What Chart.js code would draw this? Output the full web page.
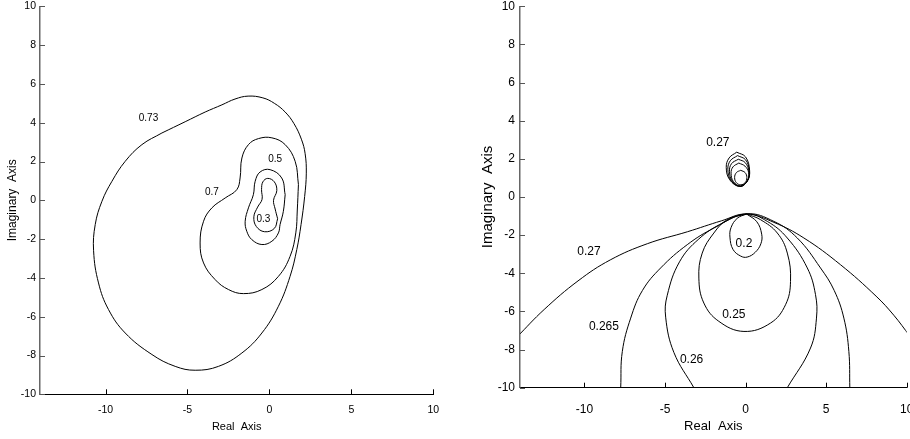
<!DOCTYPE html>
<html>
<head>
<meta charset="utf-8">
<script src="https://cdn.jsdelivr.net/npm/chart.js@4.4.1/dist/chart.umd.min.js"></script>
<style>
  html, body { margin: 0; padding: 0; background: #fff; overflow: hidden; width: 910px; height: 439px; }
  canvas { position: absolute; top: 0; }
  #left { left: 0; }
  #right { left: 460px; }
</style>
</head>
<body>
<canvas id="left" width="450" height="439"></canvas>
<canvas id="right" width="470" height="439"></canvas>
<script>
// axis ticks
const xTickVals = [-10, -5, 0, 5, 10];
const yTickVals = [-10, -8, -6, -4, -2, 0, 2, 4, 6, 8, 10];

// left panel contours [x, y]
const left073 = [[-6.56, 3.47], [-7.78, 2.87], [-8.8, 2.01], [-9.61, 0.98], [-10.22, -0.05], [-10.63, -1.25], [-10.73, -2.6], [-10.43, -4.26], [-9.82, -5.63], [-8.8, -6.84], [-7.17, -7.95], [-5.75, -8.56], [-4.53, -8.76], [-3.11, -8.56], [-1.68, -7.87], [-0.46, -6.84], [0.55, -5.46], [1.26, -3.92], [1.67, -2.54], [1.93, -1.25], [2.15, 0.2], [2.25, 1.4], [2.18, 2.4], [1.95, 3.15], [1.5, 3.95], [0.96, 4.55], [0.3, 5.0], [-0.4, 5.28], [-1.3, 5.37], [-2.1, 5.22], [-2.9, 4.92], [-3.92, 4.55], [-5.14, 4.05], [-6.56, 3.47]];
const left070 = [[1.77, 0.81], [1.57, 2.01], [0.96, 2.87], [0.15, 3.22], [-0.67, 3.18], [-1.28, 2.87], [-1.68, 2.18], [-1.79, 1.15], [-1.99, 0.55], [-2.7, 0.12], [-3.51, -0.39], [-4.02, -1.08], [-4.23, -2.2], [-4.02, -3.23], [-3.31, -4.09], [-2.5, -4.6], [-1.59, -4.81], [-0.46, -4.6], [0.55, -3.92], [1.26, -2.89], [1.61, -1.68], [1.7, -0.5], [1.77, 0.81]];
const left050 = [[0.96, 0.29], [0.85, -0.57], [0.65, -1.25], [0.55, -1.68], [0.15, -2.11], [-0.46, -2.28], [-1.07, -2.03], [-1.38, -1.6], [-1.48, -1.08], [-1.28, -0.39], [-0.98, 0.29], [-0.87, 0.98], [-0.57, 1.46], [0.04, 1.58], [0.75, 1.15], [0.96, 0.29]];
const left030 = [[0.5, -0.95], [0.3, -1.45], [-0.3, -1.62], [-0.8, -1.35], [-0.95, -0.85], [-0.72, -0.35], [-0.45, 0.05], [-0.48, 0.55], [-0.4, 0.95], [-0.1, 1.13], [0.3, 0.95], [0.45, 0.5], [0.25, 0.0], [0.35, -0.45], [0.5, -0.95]];

const leftLabelText = ['0.73', '0.7', '0.5', '0.3'];
const leftLabelX = [-7.38, -3.51, 0.35, -0.37];
const leftLabelY = [4.25, 0.43, 2.1, -0.99];

// right panel contours [x, y]
const rightOvalA = [[-0.55, 2.35], [-1.02, 2.05], [-1.2, 1.55], [-0.98, 0.9], [-0.35, 0.55], [0.12, 0.85], [0.25, 1.4], [0.0, 2.1], [-0.55, 2.35]];
const rightOvalB = [[-0.5, 2.17], [-0.95, 1.9], [-1.1, 1.45], [-0.9, 0.85], [-0.33, 0.56], [0.12, 0.85], [0.23, 1.38], [0.0, 1.95], [-0.5, 2.17]];
const rightOvalC = [[-0.45, 1.98], [-0.87, 1.75], [-1.0, 1.35], [-0.82, 0.82], [-0.32, 0.57], [0.11, 0.85], [0.21, 1.33], [-0.02, 1.8], [-0.45, 1.98]];
const rightOvalD = [[-0.42, 1.78], [-0.78, 1.58], [-0.9, 1.25], [-0.75, 0.8], [-0.31, 0.58], [0.1, 0.84], [0.19, 1.28], [-0.04, 1.62], [-0.42, 1.78]];
const rightOvalE = [[-0.3, 1.4], [-0.57, 1.28], [-0.68, 1.02], [-0.57, 0.75], [-0.3, 0.64], [-0.03, 0.75], [0.08, 1.02], [-0.03, 1.28], [-0.3, 1.4]];
const right020 = [[0.06, -0.89], [-0.52, -1.12], [-0.9, -1.6], [-0.97, -2.1], [-0.78, -2.75], [-0.3, -3.1], [0.1, -3.15], [0.6, -2.9], [0.95, -2.45], [1.0, -1.95], [0.7, -1.3], [0.06, -0.89]];
const right025 = [[0.06, -0.89], [-1.14, -1.19], [-1.97, -1.89], [-2.69, -2.94], [-2.9, -4.25], [-2.59, -5.56], [-1.66, -6.52], [-0.1, -7.05], [1.55, -6.61], [2.48, -5.65], [2.79, -4.43], [2.59, -2.94], [1.97, -1.89], [0.93, -1.19], [0.06, -0.89]];
const right026 = [[-3.21, -10], [-4.45, -8.15], [-4.96, -6.3], [-4.86, -5.15], [-4.1, -3.4], [-2.9, -2.2], [-1.4, -1.35], [0.06, -0.89], [1.35, -1.28], [2.59, -2.15], [3.83, -3.72], [4.34, -5.12], [4.4, -6.35], [4.03, -7.92], [2.59, -10]];
const right0265 = [[-7.75, -10], [-7.65, -8.1], [-7.13, -6.35], [-6.4, -4.9], [-5.27, -3.72], [-3.62, -2.5], [-1.97, -1.63], [0.06, -0.89], [1.76, -1.28], [3.21, -2.15], [4.65, -3.72], [5.5, -4.9], [6.1, -6.35], [6.41, -8.1], [6.47, -10]];
const right027 = [[-14.2, -7.35], [-12.5, -5.9], [-10.4, -4.4], [-8.4, -3.3], [-6.1, -2.45], [-3.6, -1.82], [-1.5, -1.25], [0.06, -0.89], [1.76, -1.33], [3.62, -2.15], [5.89, -3.55], [8.1, -5.2], [9.2, -6.2], [10.2, -7.3]];

const rightLabelText = ['0.27', '0.2', '0.27', '0.265', '0.25', '0.26'];
const rightLabelX = [-1.72, -0.1, -9.72, -8.79, -0.73, -3.35];
const rightLabelY = [2.83, -2.46, -2.88, -6.82, -6.17, -8.53];

// draws contour labels and inward tick marks
const contourExtras = {
  id: 'contourExtras',
  afterDatasetsDraw(chart, args, opts) {
    const ctx = chart.ctx;
    const xs = chart.scales.x, ys = chart.scales.y;
    const area = chart.chartArea;
    ctx.save();
    ctx.fillStyle = '#000';
    ctx.font = opts.size + 'px "Liberation Sans", Arial, sans-serif';
    ctx.textAlign = 'center';
    ctx.textBaseline = 'middle';
    opts.text.forEach((t, i) => {
      ctx.fillText(t, xs.getPixelForValue(opts.x[i]), ys.getPixelForValue(opts.y[i]));
    });
    ctx.lineWidth = 1;
    ctx.strokeStyle = '#000';
    xTickVals.forEach(v => {
      const px = Math.round(xs.getPixelForValue(v)) + 0.5;
      ctx.beginPath();
      ctx.moveTo(px, area.bottom);
      ctx.lineTo(px, area.bottom - 5);
      ctx.stroke();
    });
    ctx.strokeStyle = '#555';
    yTickVals.forEach(v => {
      const py = Math.round(ys.getPixelForValue(v)) + 0.5;
      ctx.beginPath();
      ctx.moveTo(area.left, py);
      ctx.lineTo(area.left + 5, py);
      ctx.stroke();
    });
    ctx.restore();
  }
};

function toDatasets(curves) {
  return curves.map(c => ({
    data: c.map(p => ({ x: p[0], y: p[1] })),
    showLine: true,
    borderColor: '#000',
    borderWidth: 1,
    pointRadius: 0,
    tension: 0.4,
    fill: false
  }));
}

function makeChart(id, curves, labels, cfg) {
  const font = '"Liberation Sans", Arial, sans-serif';
  return new Chart(document.getElementById(id), {
    type: 'scatter',
    data: { datasets: toDatasets(curves) },
    plugins: [contourExtras],
    options: {
      responsive: false,
      animation: false,
      events: [],
      layout: { padding: { top: 6.3, left: 0, bottom: 0, right: cfg.padRight } },
      plugins: {
        legend: { display: false },
        tooltip: { enabled: false },
        contourExtras: labels
      },
      scales: {
        x: {
          type: 'linear',
          min: -14,
          max: 10,
          afterBuildTicks: s => { s.ticks = xTickVals.map(v => ({ value: v })); },
          afterFit: s => { s.height = cfg.xHeight; s.paddingLeft = 0; s.paddingRight = 0; },
          grid: { display: false, drawTicks: false },
          border: { display: true, color: '#000', width: 1 },
          ticks: { color: '#000', padding: cfg.xPad, maxRotation: 0, font: { family: font, size: cfg.tickSize }, callback: v => String(v) },
          title: { display: true, text: 'Real  Axis', color: '#000', font: { family: font, size: cfg.xTitleSize }, padding: { top: 0, bottom: cfg.xTitlePad } }
        },
        y: {
          type: 'linear',
          min: -10,
          max: 10,
          afterBuildTicks: s => { s.ticks = yTickVals.map(v => ({ value: v })); },
          afterFit: s => { s.width = cfg.yWidth; s.paddingTop = 0; s.paddingBottom = 0; },
          grid: { display: false, drawTicks: false },
          border: { display: true, color: '#666', width: 1.5 },
          ticks: { color: '#000', padding: cfg.yPad, font: { family: font, size: cfg.tickSize }, callback: v => String(v) },
          title: { display: true, text: 'Imaginary  Axis', color: '#000', font: { family: font, size: cfg.yTitleSize }, padding: { top: cfg.yTitlePad, bottom: 0 } }
        }
      }
    }
  });
}

// Left panel
makeChart('left', [left073, left070, left050, left030],
  { text: leftLabelText, x: leftLabelX, y: leftLabelY, size: 10 },
  { padRight: 16.7, xHeight: 44.7, yWidth: 40, xPad: 9.4, yPad: 4, tickSize: 10.5, xTitleSize: 11, yTitleSize: 12, xTitlePad: 5.4, yTitlePad: 5.3 });

// Right panel
makeChart('right', [rightOvalA, rightOvalB, rightOvalC, rightOvalD, rightOvalE, right020, right025, right026, right0265, right027],
  { text: rightLabelText, x: rightLabelX, y: rightLabelY, size: 12 },
  { padRight: 23.3, xHeight: 51.3, yWidth: 60, xPad: 14.3, yPad: 5, tickSize: 12, xTitleSize: 13, yTitleSize: 15, xTitlePad: 4.7, yTitlePad: 18.5 });
</script>
</body>
</html>
